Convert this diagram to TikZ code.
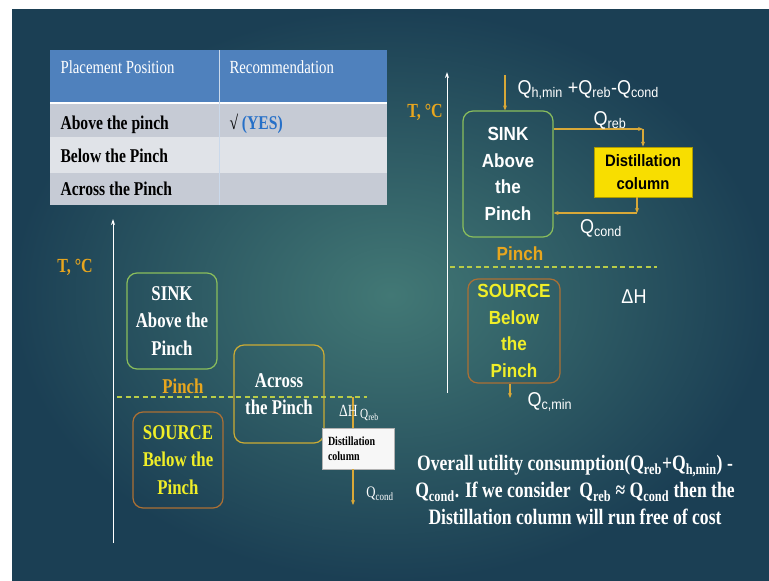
\documentclass[tikz,border=0pt]{standalone}
\usepackage{fontspec}
\setmainfont{Liberation Serif}
\newfontfamily\slideserif[FakeStretch=0.8]{Liberation Serif}
\newfontfamily\slidesans[FakeStretch=0.9]{Liberation Sans}
\usepackage{xcolor}
\usetikzlibrary{arrows.meta,positioning,shapes}

\definecolor{slidedark}{RGB}{27,63,84}
\definecolor{slidelight}{RGB}{66,120,117}
\definecolor{hdrblue}{RGB}{79,129,189}
\definecolor{rowdark}{RGB}{198,203,213}
\definecolor{rowlight}{RGB}{224,227,232}
\definecolor{pinchgold}{RGB}{232,166,30}
\definecolor{flowgold}{RGB}{216,168,56}
\definecolor{srcyellow}{RGB}{240,238,40}
\definecolor{sinkgreen}{RGB}{138,190,92}
\definecolor{srcbrown}{RGB}{172,112,52}
\definecolor{acrossgold}{RGB}{204,172,52}
\definecolor{pinchdash}{RGB}{184,204,72}
\definecolor{colyellow}{RGB}{248,222,0}
\definecolor{yesblue}{RGB}{38,112,200}

\begin{document}
\begin{tikzpicture}[x=1pt,y=-1pt,
  box/.style={draw, rounded corners=10pt, line width=1.2pt, inner sep=0pt, align=center},
  flow/.style={draw=flowgold, line width=1.2pt, -{Stealth[length=5pt,width=4pt]}},
  axis/.style={draw=white, line width=1pt, -{Stealth[length=6pt,width=4pt]}},
  pinchline/.style={draw=pinchdash, line width=1.6pt, dash pattern=on 5pt off 3.5pt},
  lserif/.style={font=\slideserif\bfseries\fontsize{21}{27.5}\selectfont},
  rsans/.style={font=\slidesans\bfseries\fontsize{19}{26.7}\selectfont},
  qlabel/.style={text=white, font=\slidesans\fontsize{20}{24}\selectfont},
  tabtext/.style={anchor=base west, font=\slideserif\bfseries\fontsize{19.5}{23}\selectfont}]
\useasboundingbox (0,0) rectangle (769,581);
\fill[white] (0,0) rectangle (769,581);
\shade[inner color=slidelight, outer color=slidedark] (12,9) rectangle (769,581);

% Table of placement positions
\fill[hdrblue] (50,50) rectangle (387,103);
\fill[rowdark] (50,103) rectangle (387,137);
\fill[rowlight] (50,137) rectangle (387,173);
\fill[rowdark] (50,173) rectangle (387,205);
\draw[white, line width=2.5pt] (50,103) -- (387,103);
\draw[white!70!hdrblue, line width=0.6pt] (219,50) -- (219,205);
\node[anchor=base west, text=white, font=\slideserif\fontsize{18.5}{22}\selectfont] (hdrpos) at (57,73) {Placement Position};
\node[anchor=base west, text=white, font=\slideserif\fontsize{18.5}{22}\selectfont] (hdrrec) at (226,73) {Recommendation};
\foreach \y/\rowtext [count=\i] in {129.5/Above the pinch, 162.5/Below the Pinch, 195.5/Across the Pinch}
  \node[tabtext] (row\i) at (57,\y) {\rowtext};
\node[tabtext] (yes) at (226,129.5) {√ \textcolor{yesblue}{(YES)}};

% Left: placement across the pinch
\draw[axis] (113,543) -- (113,219);
\node[lserif, text=pinchgold, font=\slideserif\bfseries\fontsize{20}{24}\selectfont] (tL) at (75,267) {T, °C};
\node[box, lserif, draw=sinkgreen, text=white, minimum width=90pt, minimum height=96pt] (sinkL) at (172,321) {SINK\\Above the\\Pinch};
\node[lserif, text=pinchgold] (pinchL) at (183,386) {Pinch};
\node[box, lserif, draw=srcbrown, text=srcyellow, minimum width=90pt, minimum height=96pt] (sourceL) at (178,460) {SOURCE\\Below the\\Pinch};
\node[box, lserif, draw=acrossgold, text=white, minimum width=90pt, minimum height=98pt] (acrossL) at (279,394) {Across\\the Pinch};
\draw[pinchline] (117,397) -- (367,397);
\node[draw=gray!60, fill=white!94!gray, minimum width=72pt, minimum height=41pt, inner sep=0pt, align=left, text width=60pt, font=\slideserif\bfseries\fontsize{12.5}{15}\selectfont] (distL) at (358,448.5) {Distillation\\column};
\coordinate (rebtop) at (353,397);
\coordinate (condbot) at (353,505);
\draw[flowgold, line width=1.2pt] (rebtop) -- (distL.north -| rebtop);
\draw[flow] (distL.south -| condbot) -- (condbot);
\node[anchor=east, text=white, font=\slideserif\fontsize{17}{20}\selectfont, inner sep=0pt] (dhL) at (358,411) {ΔH};
\node[anchor=west, text=white, font=\slideserif\fontsize{14}{16}\selectfont, inner sep=0pt] (qrebL) at (360,415) {Q\textsubscript{reb}};
\node[text=white, font=\slideserif\fontsize{16}{18}\selectfont] (qcondL) at (380,494) {Q\textsubscript{cond}};

% Right: column placed above the pinch
\draw[axis] (447,393) -- (447,72);
\node[text=pinchgold, font=\slideserif\bfseries\fontsize{20}{24}\selectfont] (tR) at (425,112) {T, °C};
\node[box, rsans, draw=sinkgreen, text=white, minimum width=90pt, minimum height=126pt] (sinkR) at (508,174) {SINK\\Above\\the\\Pinch};
\node[rsans, text=pinchgold] (pinchR) at (520,254) {Pinch};
\draw[pinchline] (450,267) -- (657,267);
\node[box, rsans, draw=srcbrown, text=srcyellow, minimum width=92pt, minimum height=104pt] (sourceR) at (514,331) {SOURCE\\Below\\the\\Pinch};
\node[draw=colyellow!70!black, fill=colyellow, line width=0.8pt, minimum width=98pt, minimum height=50pt, inner sep=0pt, align=center, font=\slidesans\bfseries\fontsize{16.5}{23}\selectfont] (distR) at (643,172) {Distillation\\column};
\node[qlabel, anchor=west] (qhot) at (514,90) {Q\textsubscript{h,min} +Q\textsubscript{reb}-Q\textsubscript{cond}};
\coordinate (hotin) at (505,75);
\draw[flow] (hotin) -- (hotin |- sinkR.north);
\coordinate (rebpt) at (643,129);
\draw[flow] (sinkR.east |- rebpt) -- (rebpt);
\draw[flow] (rebpt) -- (distR.north -| rebpt);
\node[qlabel] (qrebR) at (610,120) {Q\textsubscript{reb}};
\coordinate (condpt) at (637,213);
\draw[flow] (distR.south -| condpt) -- (condpt);
\draw[flow] (condpt) -- (sinkR.east |- condpt);
\node[qlabel] (qcondR) at (601,228) {Q\textsubscript{cond}};
\coordinate (cminpt) at (510,398);
\draw[flow] (sourceR.south -| cminpt) -- (cminpt);
\node[qlabel, anchor=west] (qcmin) at (524,402) {Q\textsubscript{c,min}};
\node[qlabel] (dhR) at (634,297) {ΔH};

% Summary text
\node[text=white, align=center, font=\slideserif\bfseries\fontsize{22}{27}\selectfont] (summary) at (575,490) {Overall utility consumption(Q\textsubscript{reb}+Q\textsubscript{h,min}) -\\Q\textsubscript{cond}. If we consider\ \ Q\textsubscript{reb} ≈ Q\textsubscript{cond} then the\\Distillation column will run free of cost};
\end{tikzpicture}
\end{document}
